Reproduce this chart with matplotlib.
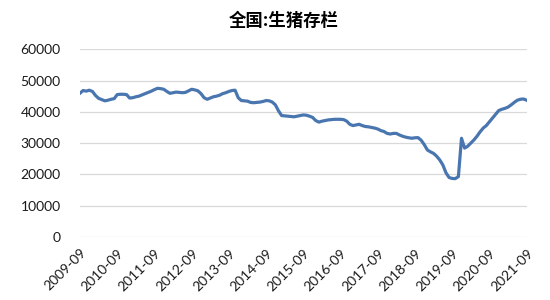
import numpy as np
import matplotlib.pyplot as plt

# monthly hog inventory (10k head), 2009-09 .. 2021-09
values = [
    45950, 46800, 46600, 46900, 46500, 45200, 44300, 43900, 43500, 43700,
    44000, 44200, 45500, 45600, 45600, 45500, 44400, 44500, 44800, 45000,
    45400, 45800, 46200, 46600, 47100, 47500, 47400, 47200, 46500, 45900,
    46100, 46300, 46200, 46100, 46200, 46700, 47200, 47000, 46700, 45800,
    44500, 44000, 44400, 44800, 45000, 45300, 45800, 46100, 46500, 46800,
    46900, 44500, 43600, 43500, 43400, 43000, 42900, 43000, 43100, 43300,
    43600, 43500, 43100, 42200, 40300, 38800, 38700, 38600, 38500, 38400,
    38600, 38800, 39000, 38900, 38600, 38200, 37200, 36700, 37000, 37200,
    37400, 37500, 37600, 37600, 37600, 37500, 37000, 36000, 35600, 35800,
    36000, 35600, 35300, 35200, 35000, 34800, 34500, 34000, 33700, 33100,
    32900, 33100, 33100, 32600, 32200, 31900, 31700, 31550, 31700, 31750,
    30900, 29500, 27800, 27200, 26700, 25800, 24600, 23000, 20500, 19000,
    18700, 18650, 19300, 31550, 28400, 29000, 30000, 31000, 32200, 33600,
    34800, 35600, 36800, 38000, 39200, 40400, 40800, 41100, 41500, 42200,
    43000, 43700, 44000, 44100, 43700,
]
tick_labels = ['2009-09', '2010-09', '2011-09', '2012-09', '2013-09', '2014-09',
               '2015-09', '2016-09', '2017-09', '2018-09', '2019-09', '2020-09',
               '2021-09']
y_ticks = [0, 10000, 20000, 30000, 40000, 50000, 60000]
title = '全国:生猪存栏'

fig = plt.figure(figsize=(5.5, 3.0), dpi=100)
ax = fig.add_axes([0.1455, 0.21, 0.812, 0.626])

x = np.arange(len(values))
ax.plot(x, values, color='#4a76b0', linewidth=2.3, solid_joinstyle='round')

ax.set_xlim(0, len(values) - 1)
ax.set_ylim(0, 60000)
ax.set_yticks(y_ticks)
ax.set_yticklabels([str(v) for v in y_ticks], fontsize=10,
                   family=['Lato', 'DejaVu Sans'], color='#1a1a1a')
ax.set_xticks(np.arange(0, len(values), 12))
ax.set_xticklabels(tick_labels, rotation=45, ha='right', rotation_mode='anchor',
                   fontsize=10, family=['Lato', 'DejaVu Sans'], color='#1a1a1a')

ax.grid(axis='y', color='#d9d9d9', linewidth=0.9)
ax.set_axisbelow(True)
for s in ax.spines.values():
    s.set_visible(False)
ax.tick_params(axis='both', length=0)
ax.tick_params(axis='y', pad=14)
ax.tick_params(axis='x', pad=7)

fig.text(0.515, 0.93, title, ha='center', va='center', fontsize=12.5,
         fontweight='bold', family=['Noto Sans CJK SC', 'DejaVu Sans'])

fig.savefig('out.png', dpi=100, facecolor='white')
